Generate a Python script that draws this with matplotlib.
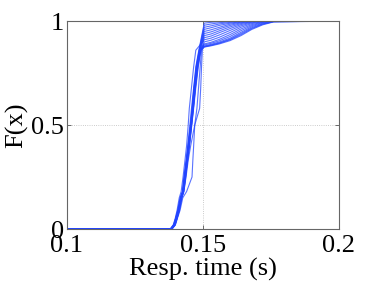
import matplotlib
matplotlib.use("Agg")
import matplotlib.pyplot as plt

# CDF curves of response time, one per run
x_start = 0.1
low_y = [0, 0.02, 0.05, 0.09, 0.15, 0.18, 0.25, 0.33, 0.40, 0.50, 0.58, 0.68, 0.78, 0.86]
up_x = [0.1505, 0.1530, 0.1560, 0.1600, 0.1640, 0.1680, 0.1720, 0.1760, 0.2000]

low_x = [
    [0.1380, 0.1392, 0.1399, 0.1407, 0.1416, 0.1424, 0.1430, 0.1438, 0.1444, 0.1452, 0.1458, 0.1466, 0.1474, 0.1485],
    [0.1381, 0.1393, 0.1400, 0.1408, 0.1417, 0.1425, 0.1431, 0.1439, 0.1445, 0.1454, 0.1460, 0.1467, 0.1475, 0.1486],
    [0.1382, 0.1394, 0.1401, 0.1409, 0.1418, 0.1426, 0.1432, 0.1440, 0.1446, 0.1455, 0.1461, 0.1468, 0.1476, 0.1487],
    [0.1383, 0.1395, 0.1402, 0.1411, 0.1420, 0.1427, 0.1433, 0.1441, 0.1447, 0.1456, 0.1462, 0.1469, 0.1477, 0.1488],
    [0.1384, 0.1396, 0.1403, 0.1412, 0.1421, 0.1428, 0.1434, 0.1442, 0.1448, 0.1457, 0.1463, 0.1470, 0.1478, 0.1489],
    [0.1385, 0.1397, 0.1404, 0.1413, 0.1422, 0.1429, 0.1436, 0.1443, 0.1450, 0.1458, 0.1464, 0.1471, 0.1479, 0.1490],
    [0.1386, 0.1398, 0.1405, 0.1414, 0.1423, 0.1430, 0.1437, 0.1444, 0.1451, 0.1459, 0.1465, 0.1472, 0.1480, 0.1491],
    [0.1387, 0.1399, 0.1406, 0.1416, 0.1426, 0.1440, 0.1460, 0.1463, 0.1466, 0.1470, 0.1478, 0.1484, 0.1490, 0.1495],
    [0.1380, 0.1391, 0.1398, 0.1405, 0.1413, 0.1420, 0.1427, 0.1434, 0.1440, 0.1446, 0.1450, 0.1458, 0.1466, 0.1474],
    [0.1384, 0.1396, 0.1403, 0.1412, 0.1421, 0.1430, 0.1438, 0.1446, 0.1455, 0.1470, 0.1488, 0.1492, 0.1495, 0.1498],
    [0.1382, 0.1395, 0.1401, 0.1410, 0.1419, 0.1427, 0.1433, 0.1441, 0.1447, 0.1455, 0.1462, 0.1469, 0.1477, 0.1488],
    [0.1383, 0.1394, 0.1402, 0.1410, 0.1418, 0.1426, 0.1434, 0.1441, 0.1448, 0.1456, 0.1461, 0.1468, 0.1478, 0.1489],
    [0.1381, 0.1393, 0.1400, 0.1409, 0.1419, 0.1428, 0.1435, 0.1443, 0.1449, 0.1457, 0.1463, 0.1470, 0.1479, 0.1490],
    [0.1385, 0.1396, 0.1404, 0.1412, 0.1420, 0.1427, 0.1433, 0.1440, 0.1447, 0.1456, 0.1464, 0.1472, 0.1481, 0.1491],
    [0.1384, 0.1397, 0.1403, 0.1411, 0.1422, 0.1429, 0.1436, 0.1442, 0.1449, 0.1458, 0.1465, 0.1473, 0.1482, 0.1492],
    [0.1386, 0.1398, 0.1405, 0.1413, 0.1421, 0.1428, 0.1435, 0.1444, 0.1450, 0.1459, 0.1466, 0.1474, 0.1483, 0.1493],
]

up_y = [
    [0.990, 0.994, 0.997, 0.999, 1, 1, 1, 1, 1],
    [0.980, 0.986, 0.992, 0.997, 1, 1, 1, 1, 1],
    [0.970, 0.977, 0.986, 0.994, 0.998, 1, 1, 1, 1],
    [0.960, 0.968, 0.979, 0.990, 0.997, 1, 1, 1, 1],
    [0.950, 0.958, 0.970, 0.985, 0.995, 0.999, 1, 1, 1],
    [0.940, 0.948, 0.962, 0.979, 0.992, 0.998, 1, 1, 1],
    [0.930, 0.938, 0.953, 0.972, 0.988, 0.997, 1, 1, 1],
    [0.920, 0.928, 0.944, 0.964, 0.983, 0.995, 0.999, 1, 1],
    [0.910, 0.918, 0.933, 0.955, 0.977, 0.992, 0.998, 1, 1],
    [0.900, 0.908, 0.922, 0.945, 0.970, 0.988, 0.997, 1, 1],
    [0.890, 0.898, 0.912, 0.935, 0.962, 0.983, 0.995, 0.999, 1],
    [0.885, 0.893, 0.905, 0.926, 0.954, 0.978, 0.993, 0.999, 1],
    [0.880, 0.888, 0.899, 0.918, 0.946, 0.973, 0.990, 0.998, 1],
    [0.878, 0.885, 0.895, 0.913, 0.940, 0.968, 0.987, 0.997, 1],
    [0.876, 0.883, 0.893, 0.910, 0.935, 0.964, 0.985, 0.997, 1],
    [0.875, 0.881, 0.890, 0.906, 0.930, 0.960, 0.982, 0.996, 1],
]

x_ticks = [0.1, 0.15, 0.2]
x_ticklabels = ["0.1", "0.15", "0.2"]
y_ticks = [0, 0.5, 1]
y_ticklabels = ["0", "0.5", "1"]

plt.rcParams["font.family"] = ["Liberation Serif", "DejaVu Serif"]

fig = plt.figure(figsize=(3.74, 2.81), dpi=100)
ax = fig.add_axes([0.179, 0.185, 0.727, 0.740])

for lx, uy in zip(low_x, up_y):
    xs = [x_start] + lx + up_x
    ys = [0] + low_y + uy
    ax.plot(xs, ys, color="#2244ff", linewidth=0.8, alpha=0.75)

ax.set_xlim(0.1, 0.2)
ax.set_ylim(0, 1)
ax.set_xticks(x_ticks)
ax.set_xticklabels(x_ticklabels)
ax.set_yticks(y_ticks)
ax.set_yticklabels(y_ticklabels)
ax.grid(True, linestyle=":", color="#bbbbbb", linewidth=0.6)
ax.tick_params(direction="in", length=3, width=0.6, top=True, right=True,
               labelsize=19, color="#555555")
ax.tick_params(axis="x", pad=4)
ax.tick_params(axis="y", pad=2)
for s in ax.spines.values():
    s.set_color("#666666")
    s.set_linewidth(0.8)

ax.set_xlabel("Resp. time (s)", fontsize=19, labelpad=1)
ax.set_ylabel("F(x)", fontsize=19, labelpad=2)

fig.savefig("out.png", dpi=100)
